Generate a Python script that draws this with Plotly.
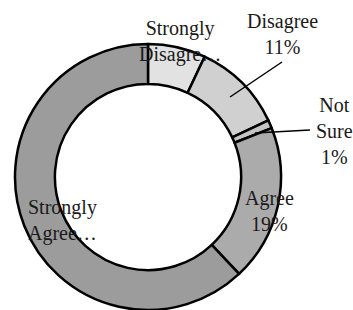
import plotly.graph_objects as go

categories = ["Strongly Disagree", "Disagree", "Not Sure", "Agree", "Strongly Agree"]
values = [7, 11, 1, 19, 62]
colors = ["#e2e2e2", "#d0d0d0", "#c4c4c4", "#ababab", "#9c9c9c"]
display_labels = ["Strongly<br>Disagre…", "Disagree<br>11%", "Not<br>Sure<br>1%", "Agree<br>19%", "Strongly<br>Agree…"]

W, H = 353, 310
cx, cy, R = 148, 178, 134  # target pixel centre / radius (from top)

fig = go.Figure(go.Pie(
    labels=categories, values=values, sort=False, direction="clockwise", rotation=0,
    hole=0.70, textinfo="none", hoverinfo="label+percent",
    marker=dict(colors=colors, line=dict(color="black", width=2.5)),
    domain=dict(x=[(cx - R) / W, (cx + R) / W], y=[max(0.0, (H - cy - R) / H), (H - cy + R) / H]),
    showlegend=False,
))

label_pos = [(180, 41), (282, 34), (334, 131), (269, 211), (62, 220)]
for txt, (x, y) in zip(display_labels, label_pos):
    fig.add_annotation(x=x / W, y=1 - y / H, xref="paper", yref="paper", text=txt,
                       showarrow=False, font=dict(family="Liberation Serif", size=20, color="#1a1a1a"),
                       align="center", xanchor="center", yanchor="middle")

# leader lines
for (x0, y0, x1, y1) in [(282, 62, 230, 97), (255, 133, 310, 130)]:
    fig.add_shape(type="line", xref="paper", yref="paper",
                  x0=x0 / W, y0=1 - y0 / H, x1=x1 / W, y1=1 - y1 / H,
                  line=dict(color="black", width=1.5))

fig.update_layout(width=W, height=H, margin=dict(l=0, r=0, t=0, b=0),
                  paper_bgcolor="white", plot_bgcolor="white")
fig.write_html("out.html", config={"displayModeBar": False},
               post_script="document.body.style.margin='0px';document.body.style.overflow='hidden';")
